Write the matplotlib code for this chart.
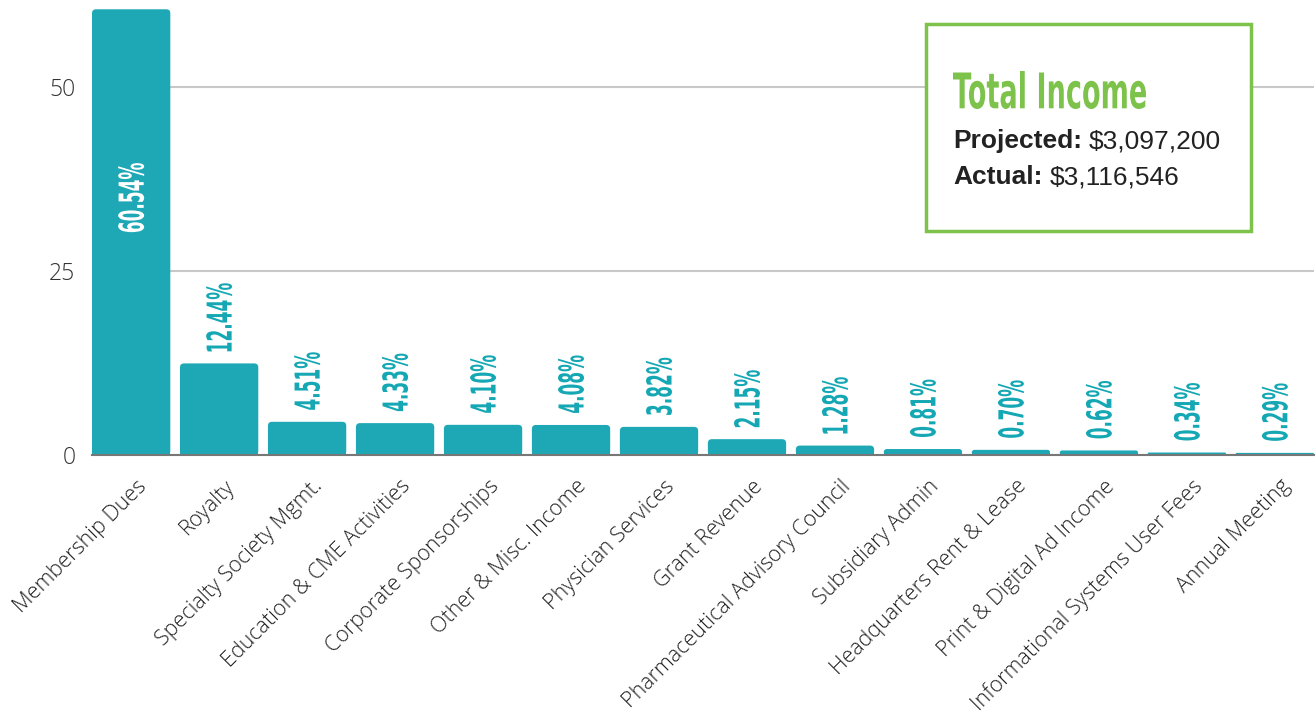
import matplotlib
matplotlib.use('Agg')
import matplotlib.pyplot as plt
from matplotlib.patches import Rectangle, PathPatch, FancyBboxPatch
from matplotlib.textpath import TextPath
from matplotlib.font_manager import FontProperties
from matplotlib.transforms import Affine2D, ScaledTranslation

# Datos del gráfico
categorias = ['Membership Dues', 'Royalty', 'Specialty Society Mgmt.',
              'Education & CME Activities', 'Corporate Sponsorships',
              'Other & Misc. Income', 'Physician Services', 'Grant Revenue',
              'Pharmaceutical Advisory Council', 'Subsidiary Admin',
              'Headquarters Rent & Lease', 'Print & Digital Ad Income',
              'Informational Systems User Fees', 'Annual Meeting']
porcentajes = [60.54, 12.44, 4.51, 4.33, 4.10, 4.08, 3.82, 2.15,
               1.28, 0.81, 0.70, 0.62, 0.34, 0.29]
yticks = [0, 25, 50]
titulo_caja = 'Total Income'
proyectado = '$3,097,200'
real = '$3,116,546'

teal = '#1ea8b6'
teal_txt = '#15a8b4'
verde = '#7dc24b'
W, H = 1315, 713

fig = plt.figure(figsize=(W / 100, H / 100), dpi=100)
ax = fig.add_axes([92 / W, 1 - 455 / H, 1222 / W, 455 / H])

x = list(range(len(categorias)))
barras = ax.bar(x, porcentajes, width=0.89, color=teal, zorder=3)

ax.set_xlim(-0.445, len(categorias) - 0.555)
ax.set_ylim(0, 61.8)

# esquinas superiores redondeadas
px_x = (ax.get_xlim()[1] - ax.get_xlim()[0]) / 1222
px_y = 61.8 / 455
aspecto = px_y / px_x
for b in barras:
    h = b.get_height()
    rad = min(4 * px_x, h / aspecto / 2)
    ax.add_patch(FancyBboxPatch((b.get_x(), 0), b.get_width(), h,
                                boxstyle=f'round,pad=0,rounding_size={rad}',
                                mutation_aspect=aspecto, facecolor=teal,
                                lw=0, zorder=3))
    b.set_height(h / 2)

ax.set_yticks(yticks)
ax.set_yticklabels([str(v) for v in yticks], fontsize=16.5, color='#333333',
                   family='Open Sans', fontweight='light')
ax.yaxis.grid(True, color='#c8c8c8', lw=1.5, zorder=0)
ax.tick_params(axis='y', length=0, pad=12)
ax.tick_params(axis='x', length=0, pad=15)
for s in ['top', 'right', 'left']:
    ax.spines[s].set_visible(False)
ax.spines['bottom'].set_color('#777777')
ax.spines['bottom'].set_linewidth(1.5)
ax.spines['bottom'].set_zorder(4)

ax.set_xticks(x)
ax.set_xticklabels(categorias, rotation=45, ha='right', rotation_mode='anchor',
                   fontsize=15.5, color='#222222', family='Open Sans',
                   fontweight='light')
for lab in ax.get_xticklabels():
    lab.set_transform(lab.get_transform() + Affine2D().translate(5, 0))

# Texto condensado (fuente estrecha simulada con TextPath)
fp = FontProperties(family='DejaVu Sans', weight='bold')
ref = TextPath((0, 0), '60.54%', size=1, prop=fp).get_extents()
sx = 69 / ref.width
sy = 26 / ref.height


def etiqueta(xv, yv, txt, color, dy):
    p = TextPath((0, 0), txt, size=1, prop=fp)
    e = p.get_extents()
    tr = (Affine2D().translate(-e.x0, -(e.y0 + e.y1) / 2)
          .scale(sx, sy).rotate_deg(90).translate(0, dy)
          + ScaledTranslation(xv, yv, ax.transData))
    ax.add_patch(PathPatch(p, transform=tr, facecolor=color, lw=0,
                           clip_on=False, zorder=5))


for i, v in enumerate(porcentajes):
    txt = f'{v:.2f}%'
    if i == 0:
        etiqueta(i, v / 2, txt, 'white', 0)
    else:
        etiqueta(i, v, txt, teal_txt, 12)

# Caja de ingresos totales
caja = Rectangle((926 / W, 1 - 231 / H), 325 / W, 207 / H,
                 transform=fig.transFigure, facecolor='white',
                 edgecolor=verde, lw=2.5, zorder=10)
fig.patches.append(caja)

pt = TextPath((0, 0), titulo_caja, size=1, prop=fp)
et = pt.get_extents()
tr_t = (Affine2D().translate(-et.x0, -et.y0)
        .scale(193 / et.width, 38 / et.height).translate(953, H - 109))
fig.add_artist(PathPatch(pt, transform=tr_t, facecolor=verde, lw=0,
                         zorder=11))

fig.canvas.draw()
r = fig.canvas.get_renderer()
for etiqueta_txt, valor, ypx in [('Projected:', proyectado, 148),
                                 ('Actual:', real, 184)]:
    t = fig.text(953 / W, 1 - ypx / H, etiqueta_txt, color='#222222',
                 fontsize=19, fontweight='bold', family='Liberation Sans',
                 va='baseline', zorder=11)
    bb = t.get_window_extent(renderer=r)
    fig.text((bb.x1 + 7) / W, 1 - ypx / H, valor, color='#222222',
             fontsize=19, family='Liberation Sans', va='baseline', zorder=11)

fig.savefig('out.png', dpi=100)
